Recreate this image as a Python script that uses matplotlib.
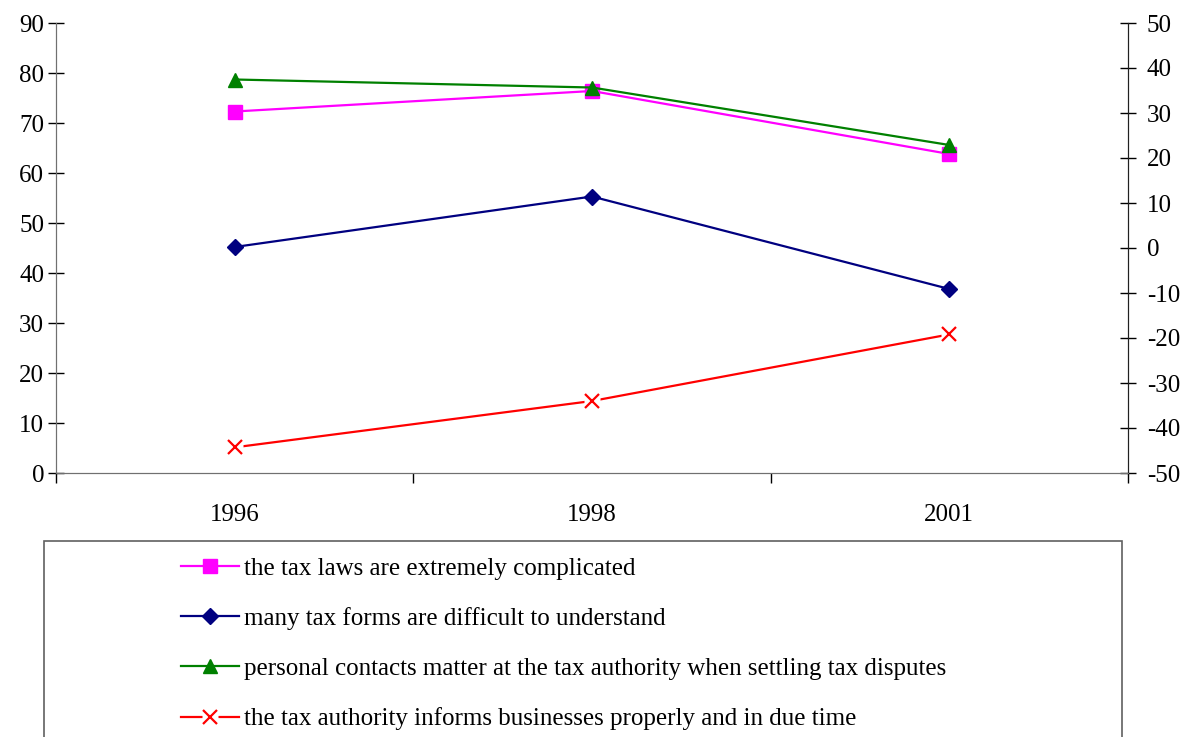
import matplotlib.pyplot as plt
from matplotlib.patches import Rectangle
from matplotlib.legend_handler import HandlerTuple

plt.rcParams['font.family'] = ['Liberation Serif', 'DejaVu Serif']
plt.rcParams['axes.unicode_minus'] = False

years = ['1996', '1998', '2001']
tax_laws_complicated = [72.3, 76.4, 63.8]
forms_difficult = [45.2, 55.3, 36.8]
personal_contacts = [78.7, 77.1, 65.6]
# plotted against the right-hand axis
informs_properly = [-44.3, -34.0, -19.2]

labels = [
    'the tax laws are extremely complicated',
    'many tax forms are difficult to understand',
    'personal contacts matter at the tax authority when settling tax disputes',
    'the tax authority informs businesses properly and in due time',
]

W, H = 1184, 737
fig = plt.figure(figsize=(W / 100, H / 100), dpi=100)
ax = fig.add_axes([56 / W, 1 - 473 / H, (1128 - 56) / W, (473 - 23) / H])
ax2 = ax.twinx()

x = list(range(len(years)))
fs = 18

h1, = ax.plot(x, tax_laws_complicated, color='#FF00FF', lw=1.6, marker='s', ms=10)
h2, = ax.plot(x, forms_difficult, color='#000080', lw=1.6, marker='D', ms=8)
h3, = ax.plot(x, personal_contacts, color='#008000', lw=1.6, marker='^', ms=10)

# red line with a gap around each cross
l4, = ax2.plot(x, informs_properly, color='#FF0000', lw=1.6, zorder=2)
w4, = ax2.plot(x, informs_properly, ls='none', marker='s', ms=11,
               mfc='white', mec='none', zorder=3)
m4, = ax2.plot(x, informs_properly, ls='none', marker='x', ms=10,
               mew=1.6, color='#FF0000', zorder=4)

ax.set_xlim(-0.5, 2.5)
ax.set_ylim(0, 90)
ax2.set_ylim(-50, 50)
ax.set_yticks(range(0, 91, 10))
ax2.set_yticks(range(-50, 51, 10))

ax.set_xticks(x)
ax.set_xticklabels(years, fontsize=fs)
ax.set_xticks([-0.5, 0.5, 1.5, 2.5], minor=True)
ax.tick_params(axis='x', which='major', length=0, pad=22)
ax.tick_params(axis='x', which='minor', direction='out', length=7,
               width=1, color='black')
ax.tick_params(axis='y', direction='inout', length=11, width=1,
               labelsize=fs, pad=3, color='black')
ax2.tick_params(axis='y', direction='inout', length=11, width=1,
                labelsize=fs, pad=8, color='black')

for a in (ax, ax2):
    a.spines['top'].set_visible(False)
    a.spines['left'].set_color('#707070')
    a.spines['bottom'].set_color('#707070')
    a.spines['right'].set_color('#202020')

# legend box runs off the bottom of the figure
fig.patches.append(Rectangle((44 / W, -0.05), (1122 - 44) / W, 1 - 541 / H + 0.05,
                             transform=fig.transFigure, fill=False,
                             edgecolor='#606060', lw=1.2))

leg = fig.legend([h1, h2, h3, (l4, w4, m4)], labels,
                 handler_map={tuple: HandlerTuple(ndivide=1)},
                 loc='upper left', bbox_to_anchor=(181 / W, 1 - 557 / H),
                 frameon=False, fontsize=fs, handlelength=2.3,
                 handletextpad=0.2, labelspacing=1.1, borderpad=0,
                 borderaxespad=0)

fig.savefig('out.png', dpi=100)
